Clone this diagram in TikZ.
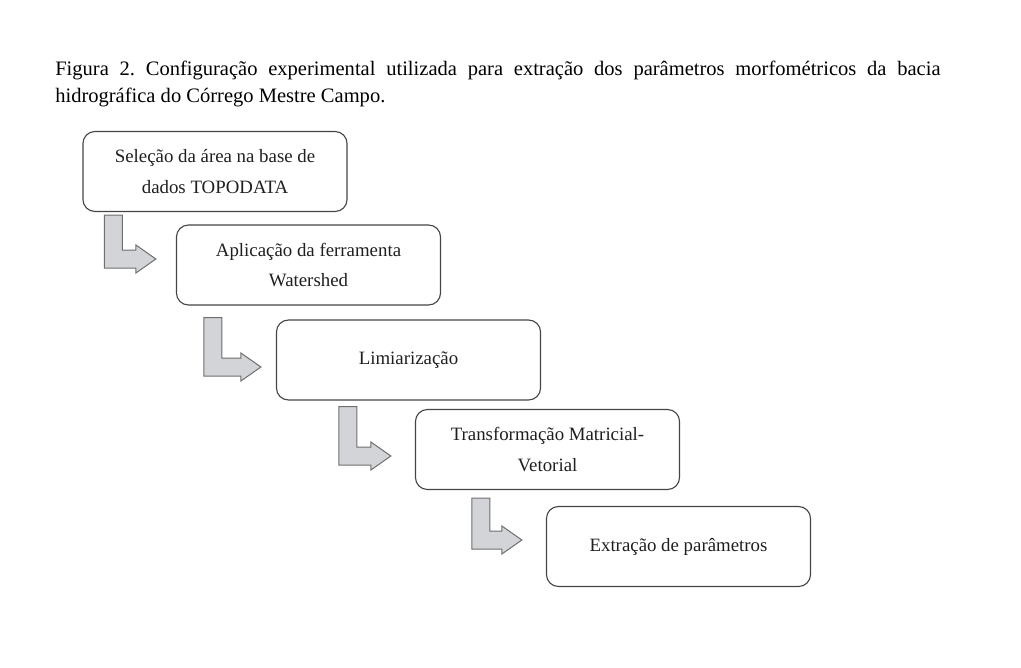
\documentclass[tikz,border=0pt]{standalone}
\usepackage{fontspec}
\setmainfont{Liberation Serif}
\usepackage{tikz}
\usetikzlibrary{calc,backgrounds}

\definecolor{boxline}{HTML}{454545}
\definecolor{arrowfill}{HTML}{D3D4D8}
\definecolor{arrowline}{HTML}{6E6E6E}

\tikzset{
  etapa/.style={draw=boxline, line width=0.8pt, rounded corners=0.3cm,
    minimum width=6.6cm, minimum height=2cm, align=center,
    font=\fontsize{13.4}{22}\selectfont, text=black!88},
  seta/.style={fill=arrowfill, draw=arrowline, line width=0.7pt}
}

% bent block arrow from below one box to the left of the next one
% #1 upper box, #2 lower box, #3 start offset, #4 tip offset
\newcommand{\setadobrada}[4]{
  \path (#1.south west) ++(#3) coordinate (p) (#2.west) ++(#4) coordinate (q);
  \draw[seta] (p) -- ++(18,0) |- ($(q)+(-20,-9)$) -- ++(0,-5) -- (q)
    -- ++(-20,14) -- ++(0,-5) -| (p) -- cycle;
}

\begin{document}
\frenchspacing
\begin{tikzpicture}[x=0.025cm, y=-0.025cm]
\useasboundingbox (0,0) rectangle (1021,667);

\node[anchor=north west, inner sep=0pt, text width=22.125cm, align=justify,
  font=\fontsize{14.6}{19.2}\selectfont] (legenda) at (55,61)
  {Figura 2. Configuração experimental utilizada para extração dos parâmetros morfométricos da bacia\linebreak
   hidrográfica do Córrego Mestre Campo.};

\node[etapa] (selecao) at (215,171.5) {Seleção da área na base de\\dados TOPODATA};
\node[etapa] (aplicacao) at (308.5,265) {Aplicação da ferramenta\\Watershed};
\node[etapa] (limiar) at (408.5,360) {Limiarização};
\node[etapa] (transf) at (547.5,449.5) {Transformação Matricial-\\Vetorial};
\node[etapa] (extracao) at (678.5,546.5) {Extração de parâmetros};

\foreach \a/\b/\s/\t in {selecao/aplicacao/{22,3}/{-20,-6},
    aplicacao/limiar/{28,12}/{-15,7},
    limiar/transf/{63,6}/{-24,6.5},
    transf/extracao/{57,8}/{-24,-6.5}}
  \setadobrada{\a}{\b}{\s}{\t};
\end{tikzpicture}
\end{document}
